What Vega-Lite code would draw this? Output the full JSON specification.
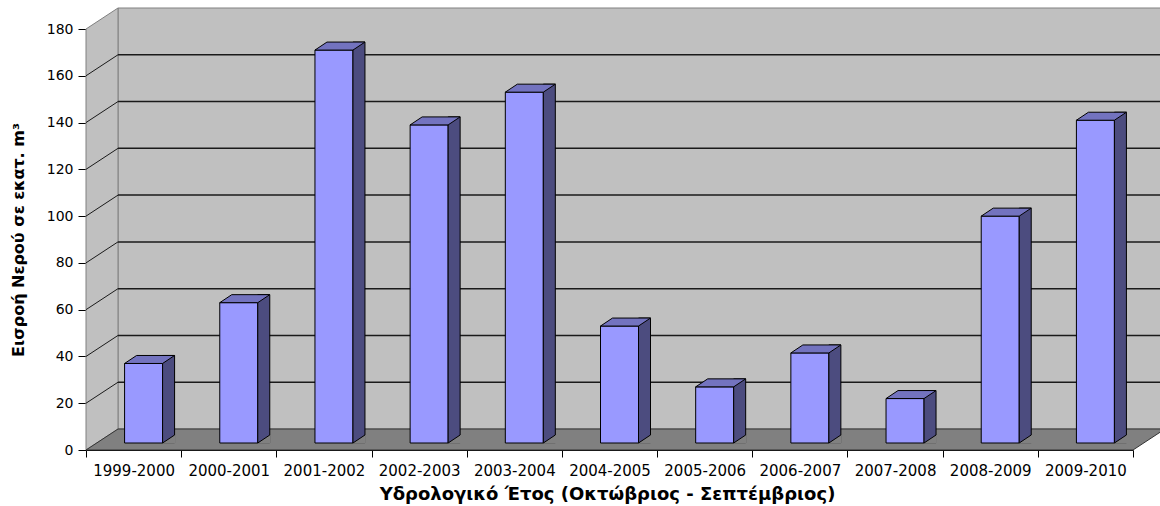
{
  "$schema": "https://vega.github.io/schema/vega-lite/v6.json",
  "width": 1047,
  "height": 421,
  "autosize": {"type": "none"},
  "padding": {"left": 86, "top": 29, "right": 27, "bottom": 56},
  "background": "white",
  "config": {
    "view": {"stroke": null},
    "font": "DejaVu Sans",
    "axis": {"grid": false, "zindex": 1, "tickColor": "#000000", "domainColor": "#000000", "labelColor": "#000000", "titleColor": "#000000", "labelFont": "DejaVu Sans", "titleFont": "DejaVu Sans", "titleFontWeight": "bold"},
    "axisX": {"labelAngle": 0, "tickBand": "extent", "tickSize": 7, "labelFontSize": 15, "labelPadding": 6, "titleFontSize": 18, "titleX": 521, "titleY": 49, "titleBaseline": "alphabetic"},
    "axisY": {"tickSize": 8, "labelFontSize": 14, "labelPadding": 5, "titleFontSize": 16, "titleX": -68, "titleY": 210.5, "titleBaseline": "middle", "tickCount": 10}
  },
  "datasets": {
    "inflow": [
      {"year": "1999-2000", "v": 34},
      {"year": "2000-2001", "v": 60},
      {"year": "2001-2002", "v": 168},
      {"year": "2002-2003", "v": 136},
      {"year": "2003-2004", "v": 150},
      {"year": "2004-2005", "v": 50},
      {"year": "2005-2006", "v": 24},
      {"year": "2006-2007", "v": 38.5},
      {"year": "2007-2008", "v": 19},
      {"year": "2008-2009", "v": 97},
      {"year": "2009-2010", "v": 138}
    ],
    "ticks": [{"v": 20}, {"v": 40}, {"v": 60}, {"v": 80}, {"v": 100}, {"v": 120}, {"v": 140}, {"v": 160}],
    "one": [{"k": 0}]
  },
  "layer": [
    {
      "data": {"name": "one"},
      "mark": {"type": "rect", "fill": "#c0c0c0", "stroke": "#808080", "strokeWidth": 1, "xOffset": 32, "x2Offset": 32, "yOffset": -21, "y2Offset": -21},
      "encoding": {
        "x": {"value": 0},
        "x2": {"value": "width"},
        "y": {"datum": 180, "type": "quantitative", "scale": {"domain": [0, 180], "nice": false}, "title": "Εισροή Νερού σε εκατ. m³"},
        "y2": {"datum": 0}
      }
    },
    {
      "data": {"name": "one"},
      "mark": {"type": "point", "shape": "M0,0 L0,-421 L32,-442 L32,-21 Z", "size": 4, "filled": true, "fill": "#c0c0c0", "stroke": "#808080", "strokeWidth": 1, "opacity": 1},
      "encoding": {
        "x": {"value": 0},
        "y": {"datum": 0, "type": "quantitative", "scale": {"domain": [0, 180], "nice": false}, "title": "Εισροή Νερού σε εκατ. m³"}
      }
    },
    {
      "data": {"name": "ticks"},
      "mark": {"type": "rule", "stroke": "#1a1a1a", "strokeWidth": 1.5, "xOffset": 32, "x2Offset": 32, "yOffset": -21},
      "encoding": {
        "x": {"value": 0},
        "x2": {"value": "width"},
        "y": {"field": "v", "type": "quantitative", "scale": {"domain": [0, 180], "nice": false}, "title": "Εισροή Νερού σε εκατ. m³"}
      }
    },
    {
      "data": {"name": "ticks"},
      "mark": {"type": "rule", "stroke": "#1a1a1a", "strokeWidth": 1, "y2Offset": -21},
      "encoding": {
        "x": {"value": 0},
        "x2": {"value": 32},
        "y": {"field": "v", "type": "quantitative", "scale": {"domain": [0, 180], "nice": false}, "title": "Εισροή Νερού σε εκατ. m³"},
        "y2": {"field": "v"}
      }
    },
    {
      "data": {"name": "one"},
      "mark": {"type": "point", "shape": "M0,0 L1047,0 L1079,-21 L32,-21 Z", "size": 4, "filled": true, "fill": "#808080", "stroke": "#333333", "strokeWidth": 1, "opacity": 1},
      "encoding": {
        "x": {"value": 0},
        "y": {"datum": 0, "type": "quantitative", "scale": {"domain": [0, 180], "nice": false}, "title": "Εισροή Νερού σε εκατ. m³"}
      }
    },
    {
      "data": {"name": "inflow"},
      "encoding": {
        "x": {"field": "year", "type": "nominal", "sort": null, "scale": {"paddingInner": 0, "paddingOuter": 0}, "title": "Υδρολογικό Έτος (Οκτώβριος - Σεπτέμβριος)"}
      },
      "layer": [
        {
          "mark": {"type": "bar", "width": 38, "xOffset": 10, "yOffset": -7, "y2Offset": -7, "fill": "#9999ff", "stroke": "#000000", "strokeWidth": 1},
          "encoding": {
            "y": {"field": "v", "type": "quantitative", "scale": {"domain": [0, 180], "nice": false}, "title": "Εισροή Νερού σε εκατ. m³", "axis": {"values": [0, 20, 40, 60, 80, 100, 120, 140, 160, 180]}},
            "y2": {"datum": 0}
          }
        },
        {
          "mark": {"type": "bar", "width": 12, "xOffset": 35, "yOffset": -15, "y2Offset": -7, "fill": "#4c4c7f", "stroke": "#000000", "strokeWidth": 1},
          "encoding": {
            "y": {"field": "v", "type": "quantitative", "scale": {"domain": [0, 180], "nice": false}, "title": "Εισροή Νερού σε εκατ. m³"},
            "y2": {"datum": 0}
          }
        },
        {
          "mark": {"type": "point", "shape": "M-9,-7 L29,-7 L41,-15 L3,-15 Z", "size": 4, "filled": true, "fill": "#7373bf", "stroke": "#000000", "strokeWidth": 1, "opacity": 1},
          "encoding": {
            "y": {"field": "v", "type": "quantitative", "scale": {"domain": [0, 180], "nice": false}, "title": "Εισροή Νερού σε εκατ. m³"}
          }
        },
        {
          "mark": {"type": "point", "shape": "M29,-7 L41,-15 L41.9,-15 L41.9,-6.3 L29,-6.3 Z", "size": 4, "filled": true, "fill": "#808080", "strokeWidth": 0, "opacity": 1},
          "encoding": {
            "y": {"datum": 0, "type": "quantitative", "scale": {"domain": [0, 180], "nice": false}, "title": "Εισροή Νερού σε εκατ. m³"}
          }
        },
        {
          "mark": {"type": "point", "shape": "M29,-7 L41,-15", "size": 4, "filled": false, "fill": null, "stroke": "#000000", "strokeWidth": 1, "opacity": 1},
          "encoding": {
            "y": {"datum": 0, "type": "quantitative", "scale": {"domain": [0, 180], "nice": false}, "title": "Εισροή Νερού σε εκατ. m³"}
          }
        }
      ]
    }
  ]
}
